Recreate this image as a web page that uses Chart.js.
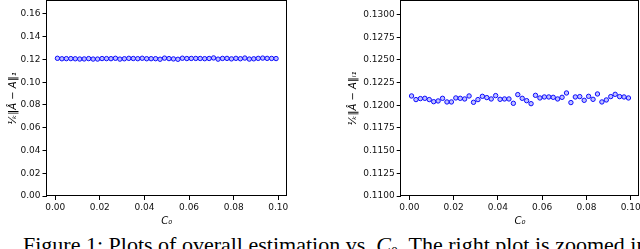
<!DOCTYPE html>
<html><head><meta charset="utf-8">
<script src="https://cdn.jsdelivr.net/npm/chart.js@4"></script>
<style>
html,body{margin:0;padding:0;background:#fff;width:640px;height:249px;overflow:hidden;}
#wrap{position:relative;width:640px;height:249px;overflow:hidden;}
.c{position:absolute;top:0;height:232px;width:320px;}
#caption{position:absolute;left:23px;top:232px;font-family:'Liberation Serif','DejaVu Serif',serif;font-size:22px;white-space:nowrap;color:#000;line-height:26px;}
</style></head><body>
<div id="wrap">
<div class="c" style="left:0"><canvas id="c1"></canvas></div>
<div class="c" style="left:320px"><canvas id="c2"></canvas></div>
<div id="caption">Figure 1: Plots of overall estimation vs. <i>C</i><sub style="font-size:14px">0</sub>. The right plot is zoomed in.</div>
</div>
<script>
// ---- data ----
const c0 = [0.001,0.003,0.005,0.007,0.009,0.011,0.013,0.015,0.017,0.019,
            0.021,0.023,0.025,0.027,0.029,0.031,0.033,0.035,0.037,0.039,
            0.041,0.043,0.045,0.047,0.049,0.051,0.053,0.055,0.057,0.059,
            0.061,0.063,0.065,0.067,0.069,0.071,0.073,0.075,0.077,0.079,
            0.081,0.083,0.085,0.087,0.089,0.091,0.093,0.095,0.097,0.099];
const err = [0.12103,0.12063,0.12074,0.12077,0.12063,0.12040,0.12048,0.12077,0.12037,0.12037,
             0.12081,0.12077,0.12070,0.12103,0.12033,0.12063,0.12099,0.12085,0.12070,0.12107,
             0.12066,0.12070,0.12070,0.12022,0.12118,0.12077,0.12051,0.12018,0.12110,0.12081,
             0.12092,0.12092,0.12088,0.12070,0.12088,0.12136,0.12030,0.12092,0.12096,0.12055,
             0.12099,0.12066,0.12125,0.12037,0.12059,0.12096,0.12121,0.12096,0.12092,0.12081];
const xTicks = [0.00,0.02,0.04,0.06,0.08,0.10];
const yTicksLeft = [0.00,0.02,0.04,0.06,0.08,0.10,0.12,0.14,0.16];
const yTicksRight = [0.1100,0.1125,0.1150,0.1175,0.1200,0.1225,0.1250,0.1275,0.1300];
const yTitleLeft = '¹⁄ₖ‖Â − A‖₁';
const yTitleRight = '¹⁄ₖ‖Â − A‖ₗ₁';
const xTitle = 'C₀';

const boxPlugin = {
  id:'box',
  afterDraw(chart){
    const a = chart.chartArea, ctx = chart.ctx;
    ctx.save();
    ctx.strokeStyle = '#000';
    ctx.lineWidth = 1;
    const l = Math.round(a.left)-0.5, t = Math.round(a.top)-0.5, r = Math.round(a.right)-0.5, b = Math.round(a.bottom)-0.5;
    ctx.strokeRect(l, t, r-l, b-t);
    ctx.restore();
  }
};

function makeChart(id, yTicks, yMin, yMax, yDigits, yTitle, yWidth, titlePad, padRight){
  const pts = c0.map((x,i)=>({x:x, y:err[i]}));
  const tickFont = {family:'DejaVu Sans', size:9};
  return new Chart(document.getElementById(id), {
    type:'scatter',
    data:{datasets:[{data:pts, pointRadius:2.2, pointBorderWidth:1,
      borderColor:'rgb(10,10,255)', backgroundColor:'rgba(150,150,255,0.6)', pointHoverRadius:2.2}]},
    plugins:[boxPlugin],
    options:{
      responsive:true, maintainAspectRatio:false, animation:false,
      layout:{autoPadding:false, padding:{left:0, right:padRight, top:1, bottom:0}},
      plugins:{legend:{display:false}, tooltip:{enabled:false}},
      scales:{
        x:{type:'linear', min:-0.0039, max:0.1039,
          afterBuildTicks:s=>{s.ticks = xTicks.map(v=>({value:v}));},
          afterFit:s=>{s.height = 36; s.paddingLeft = 0; s.paddingRight = 0;},
          ticks:{font:tickFont, color:'#111', padding:2, maxRotation:0, callback:v=>v.toFixed(2)},
          grid:{display:true, drawOnChartArea:false, drawTicks:true, tickLength:4, tickColor:'#000', tickWidth:1},
          border:{display:false},
          title:{display:true, text:xTitle, color:'#000', font:{family:'DejaVu Sans', size:10, style:'italic'}, padding:{top:0,bottom:5}}
        },
        y:{type:'linear', min:yMin, max:yMax,
          afterBuildTicks:s=>{s.ticks = yTicks.map(v=>({value:v}));},
          afterFit:s=>{s.width = yWidth; s.paddingTop = 0; s.paddingBottom = 0;},
          ticks:{font:tickFont, color:'#111', padding:2, callback:v=>v.toFixed(yDigits)},
          grid:{display:true, drawOnChartArea:false, drawTicks:true, tickLength:4, tickColor:'#000', tickWidth:1},
          border:{display:false},
          title:{display:true, text:yTitle, color:'#000', font:{family:'DejaVu Sans', size:10, style:'italic'}, padding:{top:titlePad,bottom:0}}
        }
      }
    }
  });
}
makeChart('c1', yTicksLeft, 0, 0.1714, 2, yTitleLeft, 46.5, 7, 33);
makeChart('c2', yTicksRight, 0.11, 0.1315, 4, yTitleRight, 80.7, 27, 0.7);
</script>
</body></html>
